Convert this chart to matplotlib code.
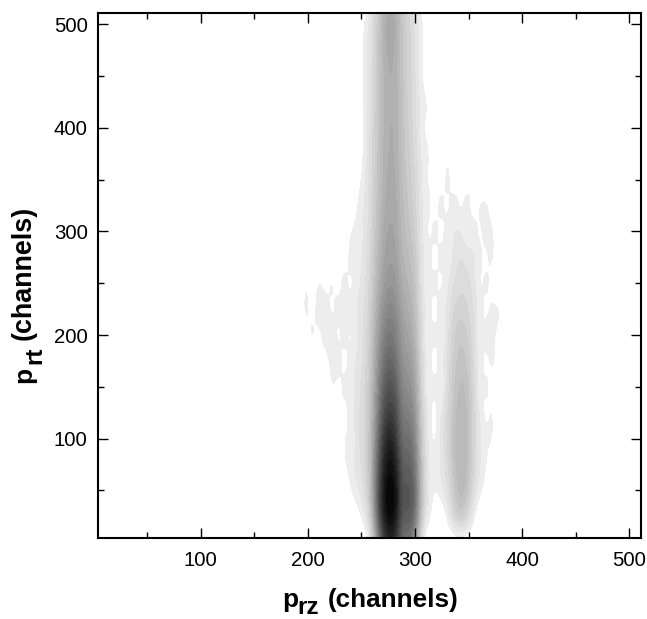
import numpy as np
import matplotlib; matplotlib.use("Agg")
import matplotlib.pyplot as plt
from matplotlib.colors import BoundaryNorm, ListedColormap
from matplotlib.ticker import MultipleLocator

plt.rcParams["font.family"] = ["Liberation Sans", "DejaVu Sans"]

# ---- data: darkness in %, p_rz 150..414 every 6 channels (columns), p_rt 0..525 every 25 (rows) ----
p_rz_first, p_rz_step = 150, 6
p_rt_first, p_rt_step = 0, 25
dark = [
    # 150                          192                          234           252     264     276     288     300     312     324     336     348     360     372     384     396     408
    [0, 0, 0, 0, 0, 0, 0, 0, 0, 0, 0, 0, 0, 0, 0, 0, 0, 0, 7, 35, 70, 85, 78, 52, 56, 38, 7, 0, 0, 0, 0, 0, 0, 0, 0, 0, 0, 0, 0, 0, 0, 0, 0, 0, 0],
    [0, 0, 0, 0, 0, 0, 0, 0, 0, 0, 0, 0, 0, 0, 0, 0, 4, 8, 18, 55, 90, 100, 94, 62, 68, 57, 20, 8, 4, 0, 8, 18, 24, 18, 8, 0, 0, 0, 0, 0, 0, 0, 0, 0, 0],
    [0, 0, 0, 0, 0, 0, 0, 0, 0, 0, 0, 0, 0, 0, 0, 7, 9, 13, 22, 58, 92, 100, 96, 64, 69, 60, 24, 9, 5, 9, 12, 22, 29, 25, 14, 8, 4, 0, 0, 0, 0, 0, 0, 0, 0],
    [0, 0, 0, 0, 0, 0, 0, 0, 0, 0, 0, 0, 0, 0, 7, 8, 11, 14, 24, 55, 85, 96, 88, 60, 63, 54, 22, 9, 7, 10, 15, 25, 30, 27, 17, 9, 7, 0, 0, 0, 0, 0, 0, 0, 0],
    [0, 0, 0, 0, 0, 0, 0, 0, 0, 0, 0, 0, 0, 0, 8, 4, 12, 15, 24, 50, 78, 88, 80, 54, 58, 48, 20, 8, 4, 11, 16, 26, 30, 28, 17, 10, 7, 8, 0, 0, 0, 0, 0, 0, 0],
    [0, 0, 0, 0, 0, 0, 0, 0, 0, 0, 0, 0, 0, 8, 3, 9, 12, 14, 23, 45, 69, 77, 71, 49, 51, 43, 18, 9, 3, 10, 16, 24, 29, 27, 18, 9, 3, 8, 0, 7, 0, 0, 0, 0, 0],
    [0, 0, 0, 0, 0, 0, 0, 8, 0, 0, 0, 0, 8, 3, 9, 4, 11, 15, 22, 41, 62, 69, 64, 45, 45, 37, 16, 3, 9, 3, 14, 23, 27, 25, 17, 3, 9, 3, 8, 0, 0, 8, 0, 0, 0],
    [0, 0, 0, 0, 0, 0, 0, 0, 8, 0, 9, 3, 8, 9, 3, 9, 10, 13, 21, 38, 55, 61, 56, 41, 40, 33, 14, 9, 3, 9, 13, 21, 25, 23, 15, 9, 3, 8, 3, 0, 8, 0, 0, 0, 0],
    [0, 0, 0, 0, 0, 8, 0, 0, 3, 9, 3, 8, 10, 3, 9, 3, 9, 13, 20, 35, 48, 54, 50, 38, 36, 29, 13, 3, 9, 3, 12, 19, 22, 20, 14, 3, 9, 8, 3, 8, 0, 0, 0, 0, 0],
    [0, 0, 0, 0, 0, 0, 8, 3, 9, 3, 9, 9, 3, 9, 4, 9, 10, 12, 18, 31, 43, 48, 45, 35, 32, 26, 12, 9, 3, 9, 10, 17, 18, 17, 13, 9, 3, 8, 8, 3, 8, 0, 0, 0, 0],
    [0, 0, 0, 0, 0, 0, 0, 0, 8, 3, 8, 3, 9, 3, 9, 3, 8, 11, 17, 28, 38, 42, 40, 31, 29, 24, 11, 3, 9, 3, 9, 13, 15, 14, 12, 3, 9, 3, 0, 8, 0, 0, 0, 0, 0],
    [0, 0, 0, 0, 0, 0, 0, 0, 0, 0, 0, 8, 0, 8, 3, 9, 7, 10, 16, 26, 35, 39, 37, 29, 26, 22, 10, 9, 3, 9, 4, 11, 13, 12, 10, 8, 3, 9, 0, 0, 0, 0, 0, 0, 0],
    [0, 0, 0, 0, 0, 0, 0, 0, 0, 0, 0, 0, 0, 0, 0, 8, 7, 9, 15, 24, 33, 37, 35, 27, 24, 19, 10, 3, 9, 3, 9, 9, 11, 4, 9, 3, 9, 8, 0, 0, 0, 0, 0, 0, 0],
    [0, 0, 0, 0, 0, 0, 0, 0, 0, 0, 0, 0, 0, 0, 0, 0, 7, 9, 14, 23, 31, 35, 34, 26, 22, 17, 9, 8, 3, 9, 3, 9, 3, 9, 3, 8, 9, 0, 8, 0, 0, 0, 0, 0, 0],
    [0, 0, 0, 0, 0, 0, 0, 0, 0, 0, 0, 0, 0, 0, 0, 0, 4, 8, 14, 22, 30, 34, 33, 25, 21, 16, 9, 4, 8, 3, 9, 3, 8, 3, 9, 0, 0, 8, 0, 0, 0, 0, 0, 0, 0],
    [0, 0, 0, 0, 0, 0, 0, 0, 0, 0, 0, 0, 0, 0, 0, 0, 0, 7, 13, 21, 30, 33, 32, 24, 20, 15, 8, 8, 0, 0, 8, 0, 0, 8, 0, 8, 0, 0, 0, 0, 0, 0, 0, 0, 0],
    [0, 0, 0, 0, 0, 0, 0, 0, 0, 0, 0, 0, 0, 0, 0, 0, 0, 7, 13, 21, 29, 33, 32, 24, 19, 14, 7, 3, 8, 0, 0, 0, 8, 0, 0, 0, 0, 0, 0, 0, 0, 0, 0, 0, 0],
    [0, 0, 0, 0, 0, 0, 0, 0, 0, 0, 0, 0, 0, 0, 0, 0, 0, 7, 12, 20, 29, 32, 32, 23, 18, 13, 7, 8, 0, 0, 0, 0, 0, 0, 0, 0, 0, 0, 0, 0, 0, 0, 0, 0, 0],
    [0, 0, 0, 0, 0, 0, 0, 0, 0, 0, 0, 0, 0, 0, 0, 0, 0, 7, 12, 20, 29, 33, 31, 23, 18, 13, 7, 0, 8, 0, 0, 0, 0, 0, 0, 0, 0, 0, 0, 0, 0, 0, 0, 0, 0],
    [0, 0, 0, 0, 0, 0, 0, 0, 0, 0, 0, 0, 0, 0, 0, 0, 0, 7, 11, 20, 30, 34, 32, 22, 18, 12, 7, 4, 0, 0, 0, 0, 0, 0, 0, 0, 0, 0, 0, 0, 0, 0, 0, 0, 0],
    [0, 0, 0, 0, 0, 0, 0, 0, 0, 0, 0, 0, 0, 0, 0, 0, 0, 7, 11, 19, 30, 36, 33, 22, 17, 12, 7, 0, 0, 0, 0, 0, 0, 0, 0, 0, 0, 0, 0, 0, 0, 0, 0, 0, 0],
    [0, 0, 0, 0, 0, 0, 0, 0, 0, 0, 0, 0, 0, 0, 0, 0, 0, 0, 8, 17, 28, 33, 30, 20, 15, 10, 7, 0, 0, 0, 0, 0, 0, 0, 0, 0, 0, 0, 0, 0, 0, 0, 0, 0, 0],
]
x_ticks = [100, 200, 300, 400, 500]
y_ticks = [100, 200, 300, 400, 500]

# ---- render ----
W, H = 647, 619
fig = plt.figure(figsize=(W / 100, H / 100), dpi=100)
ax = fig.add_axes([98 / W, 1 - 538 / H, (641 - 98) / W, (538 - 13) / H])

arr = np.array(dark)
extent = (p_rz_first - p_rz_step / 2, p_rz_first + p_rz_step * (arr.shape[1] - 0.5),
          p_rt_first - p_rt_step / 2, p_rt_first + p_rt_step * (arr.shape[0] - 0.5))
levels = np.linspace(6, 101, 30)
greys = np.linspace(0.93, 0.0, len(levels) - 1)
cmap = ListedColormap([(g, g, g) for g in greys]).with_extremes(under="white")
ax.imshow(arr, origin="lower", extent=extent, aspect="auto", cmap=cmap,
          norm=BoundaryNorm(levels, len(greys)), interpolation="bicubic", interpolation_stage="data")

ax.set_xlim(4, 511)
ax.set_ylim(4, 511)
ax.set_xticks(x_ticks)
ax.set_yticks(y_ticks)
ax.xaxis.set_minor_locator(MultipleLocator(50))
ax.yaxis.set_minor_locator(MultipleLocator(50))
ax.tick_params(which="major", direction="in", length=7.5, width=1.0, top=True, right=True, labelsize=14.7)
ax.tick_params(which="minor", direction="in", length=4, width=1.0, top=True, right=True)
ax.tick_params(axis="x", which="major", pad=9.5)
ax.tick_params(axis="y", which="major", pad=7.5)
for s in ax.spines.values():
    s.set_linewidth(1.5)

# axis titles: big subscripts, so built from separate pieces
def px(x, y):
    return x / W, 1 - y / H
kw = dict(fontweight="bold", ha="left", va="baseline", rotation_mode="anchor")
fig.text(*px(282, 607), "p", fontsize=19, **kw)
fig.text(*px(297, 614), "rz", fontsize=17.5, **kw)
fig.text(*px(328, 607), "(channels)", fontsize=18.8, **kw)
fig.text(*px(31, 383), "p", fontsize=19, rotation=90, **kw)
fig.text(*px(41, 364), "rt", fontsize=17.5, rotation=90, **kw)
fig.text(*px(31, 340), "(channels)", fontsize=19.4, rotation=90, **kw)

fig.savefig("out.png", dpi=100)
